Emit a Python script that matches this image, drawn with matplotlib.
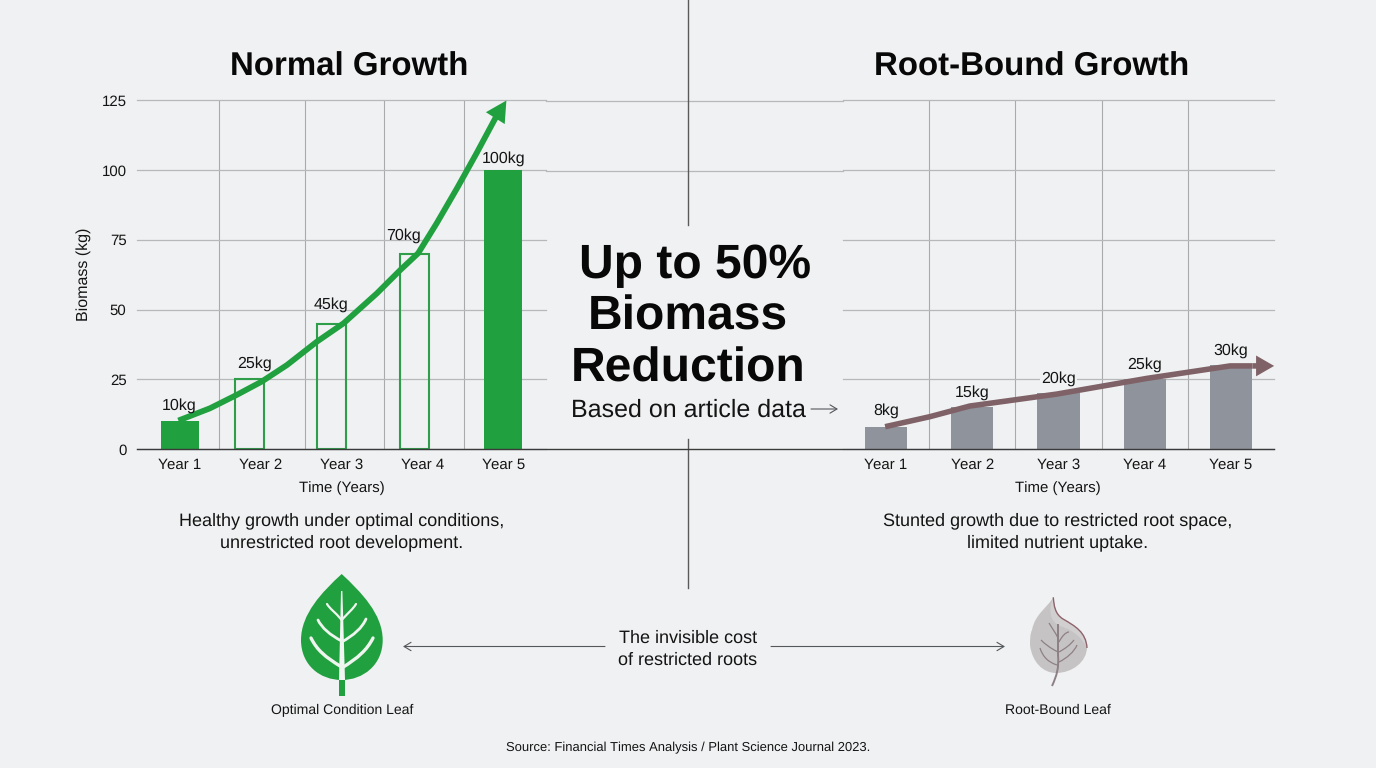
import matplotlib
matplotlib.use("Agg")
import matplotlib.pyplot as plt
from matplotlib.patches import PathPatch
from matplotlib.path import Path

plt.rcParams['font.family'] = ['Liberation Sans', 'DejaVu Sans']
plt.rcParams['text.hinting'] = 'no_hinting'
plt.rcParams['text.hinting_factor'] = 1

# data
years = ['Year 1', 'Year 2', 'Year 3', 'Year 4', 'Year 5']
y_ticks = [0, 25, 50, 75, 100, 125]
normal_values = [10, 25, 45, 70, 100]
bound_values = [8, 15, 20, 25, 30]

# the bars do not sit exactly over their tick labels in the original
normal_bar_x = [0, 0.86, 1.87, 2.895, 3.99]
normal_hollow = [False, True, True, True, False]
normal_grid_x = [0.48, 1.54, 2.52, 3.51]
bound_grid_x = [0.50, 1.50, 2.51, 3.50]

# hand drawn trend arrows
normal_trend_x = [-0.02, 0.37, 0.70, 1.01, 1.32, 1.69, 2.02, 2.43, 2.72, 2.94, 3.17, 3.42, 3.66, 3.90]
normal_trend_y = [10.2, 14.6, 19.4, 24.2, 30.1, 38.5, 45.1, 55.8, 64.2, 70.2, 81, 93.5, 106, 119]
normal_tip = (4.03, 125)
bound_trend_x = [-0.01, 0.51, 0.97, 1.98, 3.02, 3.99, 4.25]
bound_trend_y = [8, 11.6, 15.4, 19.7, 25.3, 29.8, 29.8]
bound_tip = (4.5, 29.8)

# label nudges in pixels from the top of each bar
normal_label_shift = [(-1, 16), (5, 16), (0, 19), (-11, 18), (0, 12)]
bound_label_shift = [(0, 16), (0, 15), (0, 15), (0, 15), (0, 15)]

BG = '#f0f1f2'
GREEN = '#21a03f'
GREY_BAR = '#8f949c'
MAUVE = '#7f6268'
GRID = '#b7b8b9'
INK = '#141414'

fig = plt.figure(figsize=(13.76, 7.68), dpi=100, facecolor=BG)


def make_axes(x0, x1, xlim, grid_x):
    ax = fig.add_axes([x0 / 1376, 1 - 449 / 768, (x1 - x0) / 1376, 348.5 / 768])
    ax.set_facecolor('none')
    ax.set_xlim(*xlim)
    ax.set_ylim(0, 125)
    for s in ax.spines.values():
        s.set_visible(False)
    ax.set_xticks(range(5))
    ax.set_xticklabels(years)
    ax.set_yticks(y_ticks)
    ax.tick_params(length=0, labelsize=10.6, colors=INK)
    ax.tick_params(axis='x', pad=6.5)
    ax.tick_params(axis='y', pad=7.5)
    ax.yaxis.grid(True, color=GRID, lw=0.9)
    # the top gridline sits right on the axes edge
    for line in ax.get_ygridlines():
        line.set_clip_on(False)
    ax.set_axisbelow(True)
    ax.vlines(grid_x, 0, 125, color='#a9aaab', lw=0.8, zorder=0)
    ax.set_xlabel('Time (Years)', fontsize=11, color=INK, va='center')
    return ax


# left chart
ax1 = make_axes(137, 546, (-0.531, 4.519), normal_grid_x)
for x, v, hollow in zip(normal_bar_x, normal_values, normal_hollow):
    if hollow:
        ax1.bar(x, v, width=0.36, facecolor='none', edgecolor='#2f9e4b', lw=1.5, zorder=2)
    else:
        ax1.bar(x, v, width=0.47, color=GREEN, zorder=2)
ax1.plot(normal_trend_x, normal_trend_y, color=GREEN, lw=4.2, zorder=3,
         solid_capstyle='butt', solid_joinstyle='round', clip_on=False)
ax1.annotate('', xy=normal_tip, xytext=(normal_trend_x[-1], normal_trend_y[-1]),
             arrowprops=dict(facecolor=GREEN, edgecolor='none', width=4.2, headwidth=16,
                             headlength=15, shrink=0), zorder=3, annotation_clip=False)
for i in range(5):
    ax1.annotate(f'{normal_values[i]}kg', (normal_bar_x[i], normal_values[i]),
                 xytext=normal_label_shift[i], textcoords='offset pixels',
                 ha='center', va='center', fontsize=11.6, color=INK, zorder=5)
ax1.set_ylabel('Biomass (kg)', fontsize=11.3, color=INK, va='center')
ax1.yaxis.set_label_coords((84 - 137) / 409, 0.5)
ax1.xaxis.set_label_coords((341.5 - 137) / 409, -(488 - 449) / 348.5)

# right chart
ax2 = make_axes(843, 1274, (-0.4986, 4.4986), bound_grid_x)
ax2.tick_params(axis='y', labelleft=False)
ax2.bar(range(5), bound_values, width=0.49, color=GREY_BAR, zorder=2)
ax2.plot(bound_trend_x, bound_trend_y, color=MAUVE, lw=4.0, zorder=3,
         solid_capstyle='butt', solid_joinstyle='round', clip_on=False)
ax2.annotate('', xy=bound_tip, xytext=(bound_trend_x[-1], bound_trend_y[-1]),
             arrowprops=dict(facecolor=MAUVE, edgecolor='none', width=4.0, headwidth=15,
                             headlength=13, shrink=0), zorder=3, annotation_clip=False)
for i in range(5):
    ax2.annotate(f'{bound_values[i]}kg', (i, bound_values[i]), xytext=bound_label_shift[i],
                 textcoords='offset pixels', ha='center', va='center', fontsize=11.6, color=INK, zorder=5,
                 bbox=dict(facecolor=BG, edgecolor='none', pad=1) if i == 2 else None)
ax2.xaxis.set_label_coords((1058 - 843) / 431, -(488 - 449) / 348.5)

# overlay in pixel coordinates for the annotation layer
ov = fig.add_axes([0, 0, 1, 1], zorder=-1)
ov.set_xlim(0, 1376)
ov.set_ylim(768, 0)
ov.axis('off')
top = fig.add_axes([0, 0, 1, 1], zorder=10)
top.set_xlim(0, 1376)
top.set_ylim(768, 0)
top.axis('off')
top.patch.set_alpha(0)

# lines running across the middle
ov.plot([546, 843], [100.5, 100.5], color=GRID, lw=0.9)
ov.plot([546, 843], [171, 171], color=GRID, lw=0.9)
ov.plot([688, 688], [0, 225], color='#5a5a5a', lw=1.0)
ov.plot([688, 688], [439, 588], color='#5a5a5a', lw=1.0)
top.plot([137, 1274], [449, 449], color='#3a3a3a', lw=1.0)


def thin_arrow(x0, y0, x1, y1):
    top.annotate('', xy=(x1, y1), xytext=(x0, y0),
                 arrowprops=dict(arrowstyle='->,head_length=0.5,head_width=0.3',
                                 color='#55585b', lw=0.8, shrinkA=0, shrinkB=0, mutation_scale=10))


thin_arrow(811, 409, 838, 409)
thin_arrow(605, 646.5, 403, 646.5)
thin_arrow(771, 646.5, 1005, 646.5)


def label(x, y, s, size, weight='normal', color=INK):
    top.text(x, y, s, ha='center', va='baseline', fontsize=size, fontweight=weight, color=color)


label(349.5, 76, 'Normal Growth', 23.7, 'bold', '#080808')
label(1032, 76, 'Root-Bound Growth', 23.7, 'bold', '#080808')
label(695, 278, 'Up to 50%', 34.5, 'bold', '#080808')
label(688, 330, 'Biomass', 34.5, 'bold', '#080808')
label(688, 381.5, 'Reduction', 34.5, 'bold', '#080808')
label(688, 417, 'Based on article data', 17.8)
label(342, 525, 'Healthy growth under optimal conditions,', 12.75)
label(342, 547, 'unrestricted root development.', 12.75)
label(1058, 525, 'Stunted growth due to restricted root space,', 12.75)
label(1058, 547, 'limited nutrient uptake.', 12.75)
label(688, 642.5, 'The invisible cost', 12.7)
label(688, 665, 'of restricted roots', 12.7)
label(342, 714, 'Optimal Condition Leaf', 9.75)
label(1058, 713.5, 'Root-Bound Leaf', 9.75)
label(688, 751.5, 'Source: Financial Times Analysis / Plant Science Journal 2023.', 9.55)


def bezier(points):
    # first point then groups of three control points
    codes = [Path.MOVETO] + [Path.CURVE4] * (len(points) - 1)
    return Path(points, codes)


# green leaf
top.add_patch(PathPatch(bezier([(341.7, 574), (322, 592), (301, 614), (301, 640),
                                (301, 665), (320, 680), (341.7, 680),
                                (363, 680), (382.7, 665), (382.7, 640),
                                (382.7, 614), (361, 592), (341.7, 574)]),
                        facecolor=GREEN, edgecolor='none'))
top.fill([339.3, 344.7, 344.7, 339.3], [679, 679, 696, 696], color=GREEN, lw=0)
top.fill([341, 342.4, 345, 339], [591, 591, 680, 680], color='#f2f6f2', lw=0)
for pts, w in [
    ([(341.7, 620), (335, 612), (330, 609), (327, 604)], 1.6),
    ([(341.7, 620), (349, 612), (353, 609), (356, 604)], 1.6),
    ([(341.7, 641), (330, 635), (322, 628), (318, 620)], 2.0),
    ([(341.7, 642), (354, 635), (362, 628), (366, 619)], 2.0),
    ([(341.7, 667), (325, 657), (317, 650), (311, 638)], 2.4),
    ([(341.7, 668), (358, 658), (367, 650), (373, 638)], 2.4),
]:
    top.add_patch(PathPatch(bezier(pts), facecolor='none', edgecolor='#eef5ef', lw=w, capstyle='round'))

# grey leaf
top.add_patch(PathPatch(bezier([(1053.3, 597.3), (1047, 608), (1035, 614), (1032, 630),
                                (1030, 634), (1030, 640), (1030, 645),
                                (1032, 662), (1043, 673), (1056, 673),
                                (1072, 673), (1087, 662), (1087, 647),
                                (1087, 632), (1072, 626), (1063, 620),
                                (1056, 614), (1054, 606), (1053.3, 597.3)]),
                        facecolor='#c6c3c4', edgecolor='none'))
top.add_patch(PathPatch(bezier([(1053.3, 597.3), (1054, 606), (1055, 614), (1063, 619),
                                (1075, 626), (1086, 632), (1087, 648),
                                (1083, 640), (1076, 631), (1060, 626),
                                (1050, 622), (1048, 610), (1053.3, 597.3)]),
                        facecolor='#d2cfd0', edgecolor='none'))
top.add_patch(PathPatch(bezier([(1053.3, 597.3), (1054, 606), (1055, 614), (1063, 619),
                                (1075, 626), (1086, 632), (1087, 648)]),
                        facecolor='none', edgecolor='#8f636c', lw=1))
top.add_patch(PathPatch(bezier([(1052, 686), (1057, 675), (1059, 668), (1058, 655),
                                (1058, 640), (1058, 635), (1058, 624)]),
                        facecolor='none', edgecolor='#8d8084', lw=1.4))
for pts in [
    ([(1058, 638), (1055, 632), (1052, 628), (1049, 623)]),
    ([(1059, 642), (1062, 636), (1066, 632), (1069, 632)]),
    ([(1058, 652), (1050, 648), (1045, 644), (1041, 640)]),
    ([(1059, 652), (1066, 648), (1070, 645), (1074, 640)]),
    ([(1057, 665), (1048, 662), (1043, 657), (1040, 648)]),
    ([(1059, 662), (1067, 658), (1074, 652), (1077, 645)]),
]:
    top.add_patch(PathPatch(bezier(pts), facecolor='none', edgecolor='#8d8084', lw=0.9))

fig.savefig('out.png', dpi=100, facecolor=BG)
